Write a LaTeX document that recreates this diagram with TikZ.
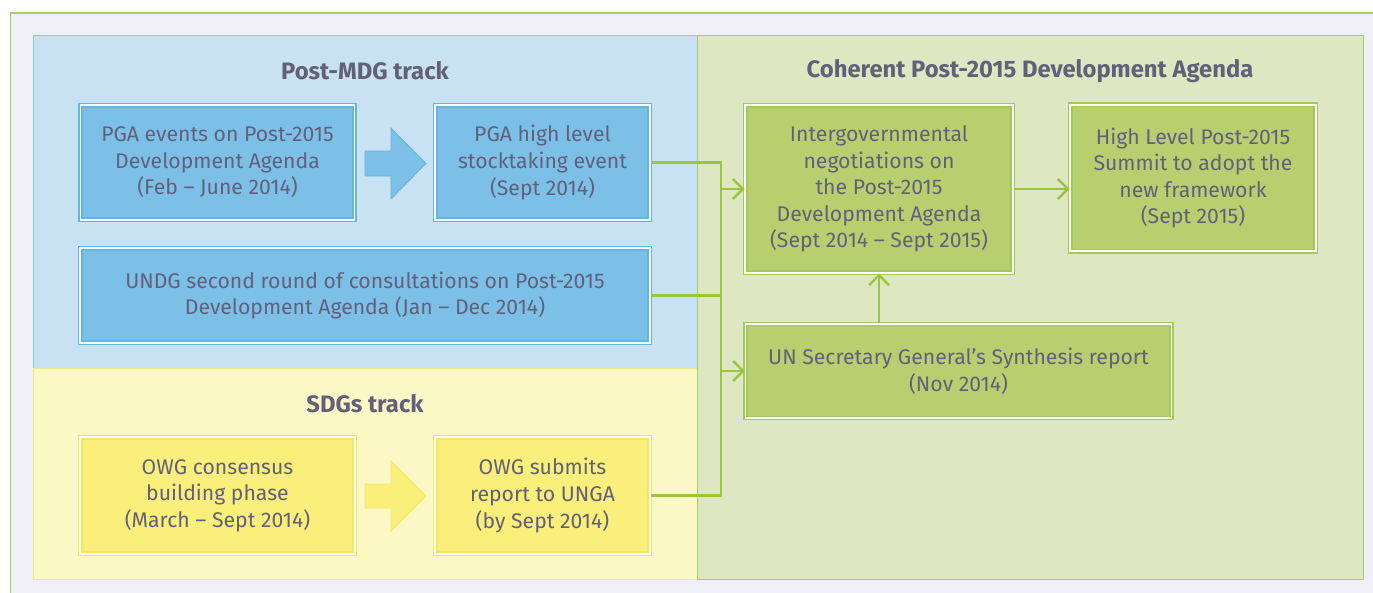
\documentclass[tikz,border=0pt]{standalone}
\usepackage{fontspec}
\setmainfont{Fira Sans}
\usetikzlibrary{arrows.meta}
\definecolor{bgl}{HTML}{F1EFF6}
\definecolor{frameg}{HTML}{A9CF6B}
\definecolor{bluep}{HTML}{C8E2F4}
\definecolor{bluepb}{HTML}{8CCBEB}
\definecolor{yelp}{HTML}{FBF8C6}
\definecolor{yelpb}{HTML}{F0EB8A}
\definecolor{grnp}{HTML}{DDE7C1}
\definecolor{grnpb}{HTML}{A9CC6A}
\definecolor{blueb}{HTML}{7CC0E8}
\definecolor{bluebd}{HTML}{62B6E2}
\definecolor{yelb}{HTML}{F9EF7A}
\definecolor{yelbd}{HTML}{F2E85E}
\definecolor{grnb}{HTML}{B8CF70}
\definecolor{grnbd}{HTML}{A4C958}
\definecolor{conncol}{HTML}{9DC43E}
\definecolor{txt}{HTML}{62607A}
\tikzset{
  boxbase/.style={double=white, double distance=1.6pt, line width=1.5pt, inner sep=0pt, align=center, text=txt,
    font=\fontsize{21.2}{26.6}\selectfont},
  bluebox/.style={boxbase, draw=bluebd, fill=blueb},
  yelbox/.style={boxbase, draw=yelbd, fill=yelb},
  grnbox/.style={boxbase, draw=grnbd, fill=grnb},
  ttl/.style={text=txt, font=\fontsize{23.8}{28}\selectfont\bfseries},
  conn/.style={draw=conncol, line width=2.6pt},
  tip/.style={conn, -{Straight Barb[length=10pt,width=20pt,line width=2.4pt]}},
}
\begin{document}
\begin{tikzpicture}[x=1pt,y=-1pt]
\useasboundingbox (0,0) rectangle (1373,592);
\begin{scope}
\clip (0,0) rectangle (1373,592);
\fill[white] (0,0) rectangle (1373,592);
\draw[draw=frameg, fill=bgl, line width=1.5pt] (10.5,13) rectangle (1400,620);
\end{scope}
% panels
\draw[draw=bluepb, fill=bluep, line width=0.8pt] (33,35) rectangle (697,368);
\draw[draw=yelpb, fill=yelp, line width=0.8pt] (33,368) rectangle (697,579);
\draw[draw=grnpb, fill=grnp, line width=0.8pt] (697,35) rectangle (1363,579);
% titles
\node[ttl] (t1) at (365,71) {Post-MDG track};
\node[ttl] (t2) at (365,404) {SDGs track};
\node[ttl] (t3) at (1030,71) {Coherent Post-2015 Development Agenda};
% boxes
\node[bluebox, minimum width=274, minimum height=114.5] (pga) at (217.5,162.5)
  {PGA events on Post-2015\\Development Agenda\\(Feb -- June 2014)};
\node[bluebox, minimum width=214.5, minimum height=114.5] (pgahigh) at (542.5,162.5)
  {PGA high level\\stocktaking event\\(Sept 2014)};
\node[bluebox, minimum width=569.5, minimum height=94.5] (undg) at (365,295.5)
  {UNDG second round of consultations on Post-2015\\Development Agenda (Jan -- Dec 2014)};
\node[yelbox, minimum width=274.5, minimum height=116.5] (owgc) at (217.5,495.5)
  {OWG consensus\\building phase\\(March -- Sept 2014)};
\node[yelbox, minimum width=214.5, minimum height=116.5] (owgs) at (542.5,495.5)
  {OWG submits\\report to UNGA\\(by Sept 2014)};
\node[grnbox, minimum width=267.5, minimum height=167.5] (inter) at (879,189)
  {Intergovernmental\\negotiations on\\the Post-2015\\Development Agenda\\(Sept 2014 -- Sept 2015)};
\node[grnbox, minimum width=245.5, minimum height=146.5] (high) at (1193,178)
  {High Level Post-2015\\Summit to adopt the\\new framework\\(Sept 2015)};
\node[grnbox, minimum width=426, minimum height=94] (sg) at (958.5,371)
  {UN Secretary General’s Synthesis report\\(Nov 2014)};
% block arrows
\draw[draw=bluebd, fill=blueb, line width=0.8pt] (365,151) -- (391,151) -- (391,128) -- (426,163.5) -- (391,199) -- (391,176) -- (365,176) -- cycle;
\draw[draw=yelbd, fill=yelb, line width=0.8pt] (365,484) -- (391,484) -- (391,461) -- (426,496) -- (391,531) -- (391,508) -- (365,508) -- cycle;
% connectors
\coordinate (jb) at (721,495.5);
\draw[conn] (pgahigh.east) -| (jb) -- (owgs.east);
\draw[conn] (undg.east) -- (undg.east -| jb);
\draw[tip] (inter.west -| jb) -- (inter.west);
\draw[tip] (sg.west -| jb) -- (sg.west);
\draw[tip] (inter.south |- sg.north) -- (inter.south);
\draw[tip] (inter.east) -- (inter.east -| high.west);
\end{tikzpicture}
\end{document}
